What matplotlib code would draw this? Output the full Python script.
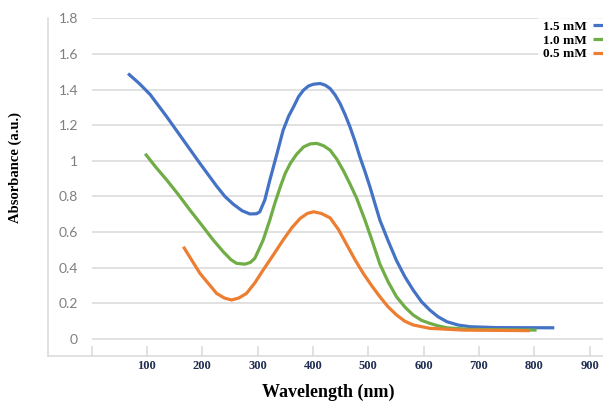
import matplotlib
matplotlib.use("Agg")
import matplotlib.pyplot as plt

# wavelength (nm) / absorbance
wl_15 = [66, 86, 106, 136, 166, 196, 226, 241, 256, 272, 286, 298, 304, 313, 322, 335, 346, 356, 365, 374, 383, 392, 401,
         413, 422, 431, 440, 449, 458, 467, 476, 485, 494, 503, 512, 521, 536, 551, 566, 581, 596, 611, 626,
         642, 663, 684, 732, 836]
abs_15 = [1.49, 1.435, 1.372, 1.247, 1.116, 0.985, 0.858, 0.80, 0.757, 0.72, 0.702, 0.703, 0.714, 0.78, 0.89, 1.04,
          1.17, 1.25, 1.303, 1.36, 1.397, 1.42, 1.43, 1.434, 1.425, 1.406, 1.37, 1.322, 1.26, 1.19, 1.11, 1.02, 0.94,
          0.854, 0.76, 0.667, 0.55, 0.44, 0.35, 0.275, 0.21, 0.163, 0.125, 0.097, 0.078, 0.069, 0.064, 0.063]

wl_10 = [97, 116, 136, 157, 178, 199, 220, 238, 252, 262, 277, 287, 295, 302, 310, 322, 331, 341, 350, 359, 370,
         383, 395, 407, 419, 431, 443, 455, 467, 479, 494, 506, 521, 536, 551, 566, 581, 596, 611, 626, 642, 684, 804]
abs_10 = [1.04, 0.965, 0.892, 0.81, 0.723, 0.64, 0.555, 0.49, 0.445, 0.425, 0.42, 0.43, 0.453, 0.50, 0.555, 0.667,
          0.76, 0.854, 0.93, 0.985, 1.035, 1.078, 1.095, 1.098, 1.085, 1.06, 1.01, 0.945, 0.87, 0.79, 0.667, 0.56,
          0.42, 0.32, 0.237, 0.18, 0.135, 0.105, 0.088, 0.074, 0.063, 0.054, 0.05]

wl_05 = [166, 196, 226, 240, 253, 266, 280, 295, 310, 328, 346, 362, 377, 390, 401, 415,
         431, 446, 461, 476, 491, 506, 521, 536, 551, 566, 581, 611, 672, 792]
abs_05 = [0.518, 0.368, 0.256, 0.23, 0.219, 0.23, 0.256, 0.315, 0.387, 0.47, 0.555, 0.625, 0.677, 0.705, 0.714, 0.705,
          0.68, 0.615, 0.53, 0.445, 0.368, 0.30, 0.237, 0.18, 0.135, 0.10, 0.079, 0.06, 0.05, 0.047]

labels = ["1.5 mM", "1.0 mM", "0.5 mM"]
colors = ["#4472C4", "#70AD47", "#ED7D31"]
x_ticks = [0, 100, 200, 300, 400, 500, 600, 700, 800, 900]
y_ticks = [0, 0.2, 0.4, 0.6, 0.8, 1, 1.2, 1.4, 1.6, 1.8]

serif = "Liberation Serif"
grey = "#d9d9d9"

fig = plt.figure(figsize=(6.03, 4.03), dpi=100)
ax = fig.add_axes([48 / 603, (403 - 355.5) / 403, 1 - 48 / 603, (355.5 - 18.3) / 403])
ax.set_xlim(-78.6, 924)
ax.set_ylim(-0.0925, 1.8)

# gridlines start at x = 0 like the original
ax.hlines(y_ticks, 0, 924, color=grey, lw=1.1, zorder=1)

for x, y, lab, c in zip([wl_15, wl_10, wl_05], [abs_15, abs_10, abs_05], labels, colors):
    ax.plot(x, y, color=c, lw=2.3, label=lab, solid_capstyle="butt", solid_joinstyle="round", zorder=3)

for s in ["top", "right"]:
    ax.spines[s].set_visible(False)
for s in ["left", "bottom"]:
    ax.spines[s].set_color(grey)
    ax.spines[s].set_linewidth(1.1)

ax.set_xticks(x_ticks)
ax.set_xticklabels(["" if v == 0 else str(v) for v in x_ticks],
                   fontfamily=serif, fontweight="bold", fontsize=9, color="#1f2d50")
ax.tick_params(axis="x", direction="in", length=7.5, width=1.1, color=grey, pad=3)

ax.set_yticks(y_ticks)
ax.set_yticklabels(["{:g}".format(v) for v in y_ticks], fontfamily="Lato", fontsize=10, color="#7f7f7f")
ax.tick_params(axis="y", length=0, pad=-21.6)

ax.set_xlabel("Wavelength (nm)", fontfamily=serif, fontweight="bold", fontsize=13)
ax.xaxis.set_label_coords(0.5045, -0.084)
ax.set_ylabel("Absorbance (a.u.)", fontfamily=serif, fontweight="bold", fontsize=10.5)
ax.yaxis.set_label_coords(-0.047, 0.559)

leg = ax.legend(loc="upper right", bbox_to_anchor=(1.012, 1.008), markerfirst=False,
                handlelength=0.9, handletextpad=0.4, labelspacing=0.1, borderaxespad=0,
                frameon=True, fancybox=False,
                prop={"family": serif, "weight": "bold", "size": 9.5})
leg.get_frame().set_facecolor("white")
leg.get_frame().set_edgecolor("none")

fig.savefig("out.png", dpi=100)
